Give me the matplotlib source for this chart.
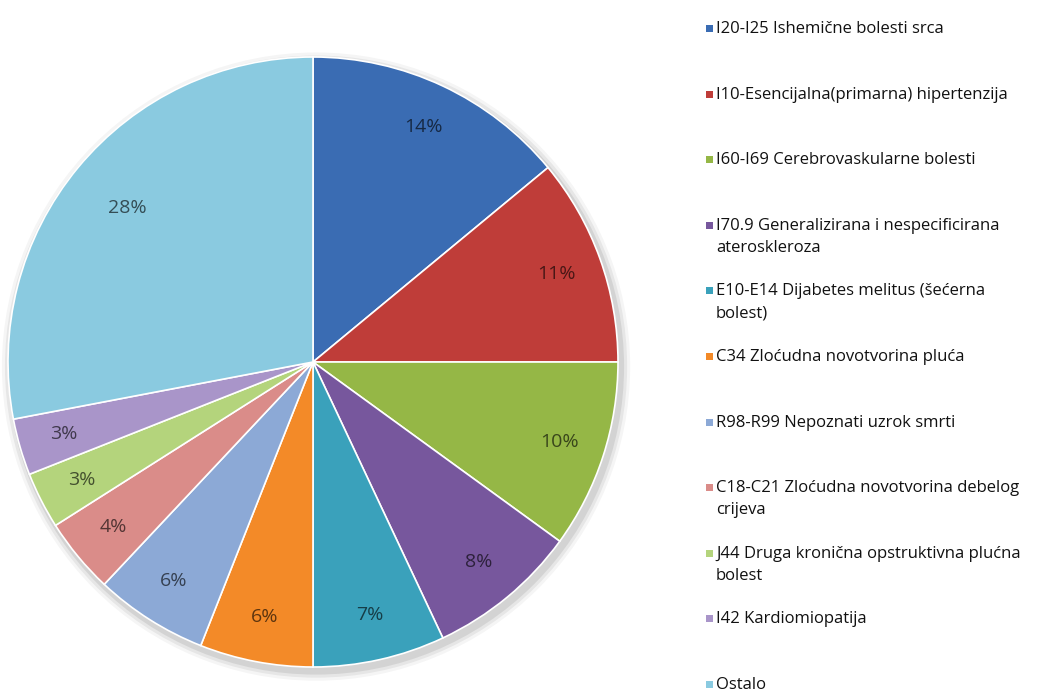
import matplotlib.pyplot as plt
from matplotlib.patches import Rectangle, Circle
from matplotlib.colors import to_rgb

# podaci
kategorije = [
    "I20-I25 Ishemične bolesti srca",
    "I10-Esencijalna(primarna) hipertenzija",
    "I60-I69 Cerebrovaskularne bolesti",
    "I70.9 Generalizirana i nespecificirana\nateroskleroza",
    "E10-E14 Dijabetes melitus (šećerna\nbolest)",
    "C34 Zloćudna novotvorina pluća",
    "R98-R99 Nepoznati uzrok smrti",
    "C18-C21 Zloćudna novotvorina debelog\ncrijeva",
    "J44 Druga kronična opstruktivna plućna\nbolest",
    "I42 Kardiomiopatija",
    "Ostalo",
]
postotci = [14, 11, 10, 8, 7, 6, 6, 4, 3, 3, 28]

boje = ["#3a6cb3", "#bf3d39", "#95b746", "#77579d", "#3aa1bb", "#f38a28",
        "#8ca9d6", "#da8c89", "#b4d47c", "#a995c9", "#8acae0"]


def tamnija(c, f=0.38):
    r, g, b = to_rgb(c)
    return (r * f, g * f, b * f)


fig = plt.figure(figsize=(10.62, 6.93), dpi=100)
W, H = 1062, 693

# pita
cx, cy, r = 313, 362, 305
ax = fig.add_axes([(cx - r) / W, (H - cy - r) / H, 2 * r / W, 2 * r / H])

# blaga sjena ispod pite
for k, a in zip([1.03, 1.02, 1.01], [0.04, 0.06, 0.08]):
    ax.add_patch(Circle((0.01, -0.015), k, color='black', alpha=a, lw=0,
                        zorder=0, clip_on=False))

wedges, texts, autotexts = ax.pie(
    postotci, colors=boje, startangle=90, counterclock=False,
    autopct='%.0f%%', pctdistance=0.85,
    wedgeprops=dict(edgecolor='white', linewidth=1.2, zorder=1),
    textprops=dict(fontsize=14, family='Open Sans'))
for t, c in zip(autotexts, boje):
    t.set_color(tamnija(c))
x, y = autotexts[-1].get_position()
autotexts[-1].set_position((x * 0.93, y * 0.93))
ax.set_xlim(-1, 1)
ax.set_ylim(-1, 1)
ax.set_aspect('auto')

# legenda
y0 = 28
korak = 65.6
for i, (lab, c) in enumerate(zip(kategorije, boje)):
    y = y0 + i * korak
    fig.add_artist(Rectangle((706 / W, 1 - (y + 4) / H), 7 / W, 7 / H,
                             transform=fig.transFigure, color=c, lw=0))
    fig.text(716 / W, 1 - (y - 7) / H, lab, fontsize=12, family='Open Sans',
             va='top', ha='left', linespacing=1.5, color='#111111')

fig.savefig('out.png', dpi=100)
